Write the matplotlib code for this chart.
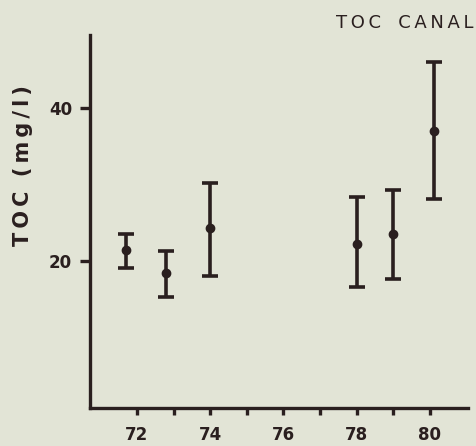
import numpy as np
import matplotlib.pyplot as plt

# Data
years = [71.7, 72.8, 74.0, 78.0, 79.0, 80.1]
toc_mean = [21.4, 18.4, 24.3, 22.2, 23.5, 37.0]
toc_high = [23.5, 21.3, 30.2, 28.3, 29.2, 46.0]
toc_low = [19.1, 15.3, 18.0, 16.6, 17.6, 28.1]

xticks = [72, 73, 74, 75, 76, 77, 78, 79, 80]
xtick_labels = ['72', '', '74', '', '76', '', '78', '', '80']
yticks = [20, 40]

bg = '#e2e4d6'
ink = '#2a1f1f'
thin = '\u2009'

fig = plt.figure(figsize=(4.77, 4.46), dpi=100, facecolor=bg)
ax = fig.add_axes([0.1887, 0.0852, 0.7923, 0.8363], facecolor=bg)

mean = np.array(toc_mean)
yerr = [mean - np.array(toc_low), np.array(toc_high) - mean]
ax.errorbar(years, mean, yerr=yerr, fmt='o', color=ink, ms=6,
            elinewidth=2.6, capsize=6, capthick=2.6)

ax.set_xlim(70.72, 81.04)
ax.set_ylim(0.8, 49.5)

for side in ['top', 'right']:
    ax.spines[side].set_visible(False)
for side in ['left', 'bottom']:
    ax.spines[side].set_color(ink)
    ax.spines[side].set_linewidth(2.4)

ax.set_xticks(xticks)
ax.set_xticklabels(xtick_labels)
ax.set_yticks(yticks)
ax.tick_params(axis='x', direction='out', length=5, width=2.4, color=ink,
               labelsize=12, labelcolor=ink, pad=8)
ax.tick_params(axis='y', direction='out', length=7, width=2.4, color=ink,
               labelsize=12, labelcolor=ink, pad=6)
for lbl in ax.get_xticklabels() + ax.get_yticklabels():
    lbl.set_fontweight('bold')

ylabel = thin.join('TOC') + '  ' + thin.join('(mg/l)')
ax.set_ylabel(ylabel, fontsize=15, fontweight='bold', color=ink)
ax.yaxis.set_label_coords(-0.15, 0.65)

title = thin.join('TOC') + '   ' + thin.join('CANAL')
fig.text(0.992, 0.928, title, fontsize=13, color=ink,
         ha='right', va='bottom')

fig.savefig('out.png', dpi=100, facecolor=bg)
